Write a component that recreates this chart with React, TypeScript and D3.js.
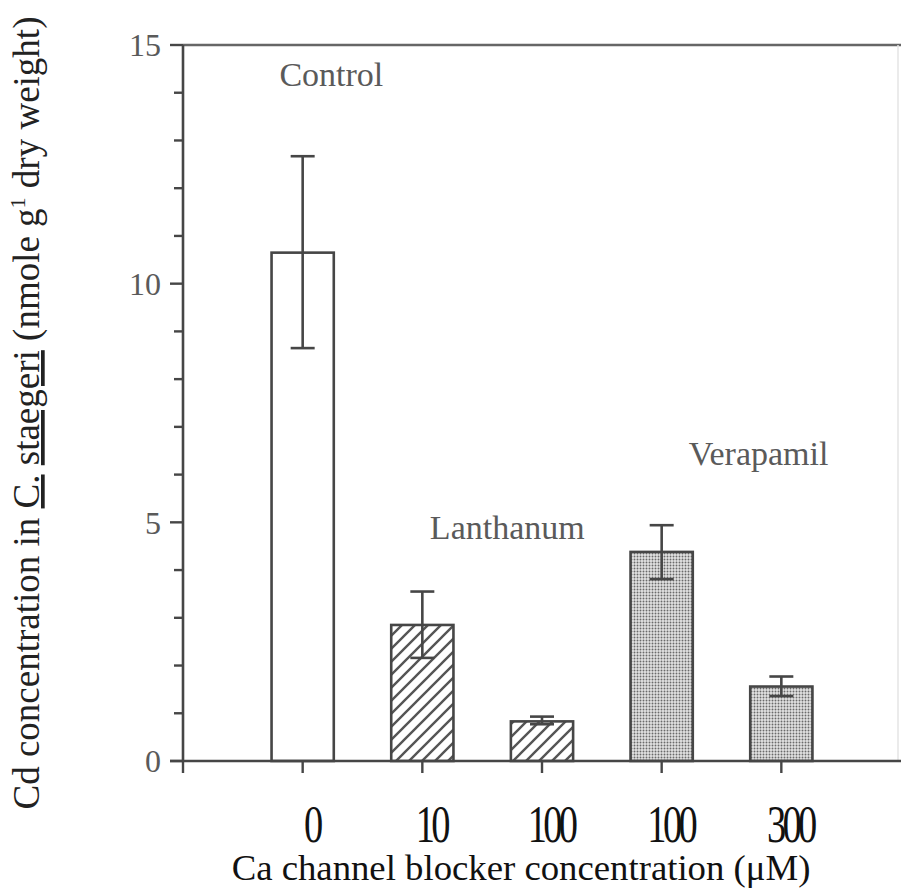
import { range, scaleLinear } from "d3";

const WIDTH = 901;
const HEIGHT = 890;

const concentrations = ["0", "10", "100", "100", "300"];
const treatments = ["control", "lanthanum", "lanthanum", "verapamil", "verapamil"];
const meanCd = [10.65, 2.85, 0.83, 4.38, 1.56];
const upperCd = [12.67, 3.55, 0.93, 4.94, 1.77];
const lowerCd = [8.65, 2.16, 0.77, 3.81, 1.36];

const yTickValues = [0, 5, 10, 15];
const groupLabels = ["Control", "Lanthanum", "Verapamil"];
// label anchors in data units (x slot, y value)
const groupLabelX = [1.24, 2.71, 4.81];
const groupLabelY = [14.15, 4.65, 6.2];

const AXIS = "#464646";
const GREY_TEXT = "#5a5a5a";
const SERIF = '"Liberation Serif", "Times New Roman", serif';

const x = scaleLinear().domain([0, 6]).range([183, 901]);
const y = scaleLinear().domain([0, 15]).range([761, 45]);

const barWidth = (x(1) - x(0)) * 0.52;
const capWidth = 24;

function fillFor(treatment: string) {
  if (treatment === "lanthanum") return "url(#hatch)";
  if (treatment === "verapamil") return "url(#stipple)";
  return "#fff";
}

export default function App() {
  const minorTicks = range(0, 16);

  return (
    <svg
      width={WIDTH}
      height={HEIGHT}
      viewBox={`0 0 ${WIDTH} ${HEIGHT}`}
      style={{ position: "absolute", left: 0, top: 0, background: "#fff" }}
    >
      <defs>
        <pattern id="hatch" width={13} height={13} patternUnits="userSpaceOnUse">
          <rect width={13} height={13} fill="#fff" />
          <path
            d="M-2,15 L15,-2 M-4,4 L4,-4 M9,17 L17,9"
            stroke="#555"
            strokeWidth={2.4}
          />
        </pattern>
        <pattern id="stipple" width={3} height={3} patternUnits="userSpaceOnUse">
          <rect width={3} height={3} fill="#e2e2e2" />
          <circle cx={1.5} cy={1.5} r={0.95} fill="#6a6a6a" />
        </pattern>
      </defs>

      {/* frame */}
      <line x1={x(0)} x2={WIDTH} y1={y(15)} y2={y(15)} stroke="#666" strokeWidth={2.5} />
      <line x1={x(6) - 3} x2={x(6) - 3} y1={y(15)} y2={y(0)} stroke="#e4e4e4" strokeWidth={1.5} />

      {/* bars */}
      {meanCd.map((v, i) => (
        <rect
          key={`bar-${i}`}
          x={x(i + 1) - barWidth / 2}
          y={y(v)}
          width={barWidth}
          height={y(0) - y(v)}
          fill={fillFor(treatments[i])}
          stroke={AXIS}
          strokeWidth={2.6}
        />
      ))}

      {/* error bars */}
      {meanCd.map((_, i) => {
        const cx = x(i + 1);
        return (
          <g key={`err-${i}`} stroke={AXIS} strokeWidth={2.6}>
            <line x1={cx} x2={cx} y1={y(upperCd[i])} y2={y(lowerCd[i])} />
            <line x1={cx - capWidth / 2} x2={cx + capWidth / 2} y1={y(upperCd[i])} y2={y(upperCd[i])} />
            <line x1={cx - capWidth / 2} x2={cx + capWidth / 2} y1={y(lowerCd[i])} y2={y(lowerCd[i])} />
          </g>
        );
      })}

      {/* y axis */}
      <line x1={x(0)} x2={x(0)} y1={y(15)} y2={y(0)} stroke={AXIS} strokeWidth={2.6} />
      {minorTicks.map((t) => {
        const major = yTickValues.includes(t);
        return (
          <line
            key={`yt-${t}`}
            x1={x(0) - (major ? 13 : 9)}
            x2={x(0)}
            y1={y(t)}
            y2={y(t)}
            stroke={AXIS}
            strokeWidth={2.4}
          />
        );
      })}
      {yTickValues.map((t) => (
        <text
          key={`yl-${t}`}
          x={x(0) - 22}
          y={y(t)}
          dy="0.35em"
          textAnchor="end"
          fontFamily={SERIF}
          fontSize={32}
          fill={GREY_TEXT}
        >
          {t}
        </text>
      ))}

      {/* x axis */}
      <line x1={170} x2={WIDTH} y1={y(0)} y2={y(0)} stroke={AXIS} strokeWidth={2.6} />
      {range(0, 6).map((k) => (
        <line
          key={`xt-${k}`}
          x1={x(k)}
          x2={x(k)}
          y1={y(0)}
          y2={y(0) + 12}
          stroke={AXIS}
          strokeWidth={2.4}
        />
      ))}
      {concentrations.map((c, i) => (
        <text
          key={`xl-${i}`}
          transform={`translate(${x(i + 1) + 9},842) scale(0.74,1)`}
          textAnchor="middle"
          fontFamily={SERIF}
          fontSize={52}
          letterSpacing={-5}
          fill="#111"
        >
          {c}
        </text>
      ))}
      <text
        transform="translate(521,880) scale(1.05,1)"
        textAnchor="middle"
        fontFamily={SERIF}
        fontSize={35}
        fill="#111"
      >
        Ca channel blocker concentration (μM)
      </text>

      {/* y title */}
      <text
        transform="translate(39,413) rotate(-90)"
        textAnchor="middle"
        fontFamily={SERIF}
        fontSize={37}
        fill="#222"
      >
        Cd concentration in <tspan textDecoration="underline">C.</tspan>{" "}
        <tspan textDecoration="underline">staegeri</tspan> (nmole g
        <tspan fontSize={22} dy={-14}>1</tspan>
        <tspan dy={14}> dry weight)</tspan>
      </text>

      {/* group labels */}
      {groupLabels.map((label, i) => (
        <text
          key={label}
          x={x(groupLabelX[i])}
          y={y(groupLabelY[i])}
          textAnchor="middle"
          fontFamily={SERIF}
          fontSize={34}
          fill={GREY_TEXT}
        >
          {label}
        </text>
      ))}
    </svg>
  );
}
